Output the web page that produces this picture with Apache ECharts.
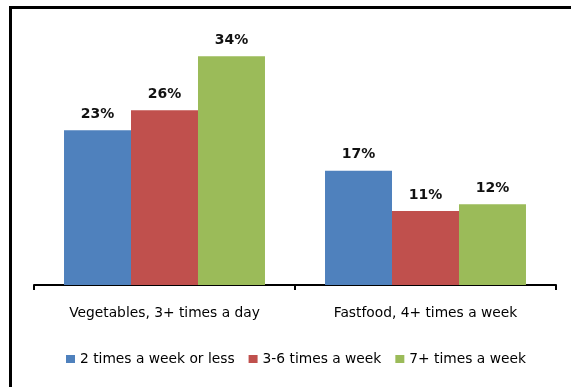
<!DOCTYPE html>
<html>
<head>
<meta charset="utf-8">
<script src="https://cdn.jsdelivr.net/npm/echarts@6/dist/echarts.min.js"></script>
<style>
  html, body { margin: 0; padding: 0; background: #fff; }
  #chart { width: 571px; height: 387px; }
</style>
</head>
<body>
<div id="chart"></div>
<script>
// Share of respondents by how often they eat, split by habit
const categories = ['Vegetables, 3+ times a day', 'Fastfood, 4+ times a week'];
const seriesNames = ['2 times a week or less', '3-6 times a week', '7+ times a week'];
const twoOrLess = [23, 17];
const threeToSix = [26, 11];
const sevenPlus = [34, 12];
const colors = ['#4F81BD', '#C0504D', '#9BBB59'];

const FONT = 'DejaVu Sans';
const values = [twoOrLess, threeToSix, sevenPlus];

const chart = echarts.init(document.getElementById('chart'), null, { renderer: 'canvas' });

chart.setOption({
  animation: false,
  backgroundColor: '#fff',
  textStyle: { fontFamily: FONT },
  graphic: [{
    type: 'rect',
    shape: { x: 10.5, y: 7.5, width: 700, height: 500 },
    style: { fill: 'none', stroke: '#000', lineWidth: 3 },
    silent: true,
    z: 100
  }],
  grid: { left: 34, right: 15, top: 16, bottom: 102, containLabel: false },
  legend: {
    left: 66,
    top: 352,
    padding: 0,
    itemWidth: 9,
    itemHeight: 8,
    itemGap: 14,
    icon: 'rect',
    textStyle: { fontFamily: FONT, fontSize: 13.8, color: '#000' },
    data: seriesNames
  },
  xAxis: {
    type: 'category',
    data: categories,
    axisLine: { lineStyle: { color: '#000', width: 2 } },
    axisTick: { show: true, length: 5, lineStyle: { color: '#000', width: 2 } },
    axisLabel: { color: '#000', fontSize: 13.8, fontFamily: FONT, margin: 21 }
  },
  yAxis: {
    type: 'value',
    min: 0,
    max: 40,
    show: false,
    splitLine: { show: false }
  },
  series: seriesNames.map((name, i) => ({
    name: name,
    type: 'bar',
    data: values[i],
    barGap: '0%',
    barCategoryGap: '23%',
    itemStyle: { color: colors[i] },
    label: {
      show: true,
      position: 'top',
      distance: 9,
      formatter: '{c}%',
      color: '#111',
      fontSize: 14,
      fontWeight: 'bold',
      fontFamily: FONT
    }
  }))
});
</script>
</body>
</html>
